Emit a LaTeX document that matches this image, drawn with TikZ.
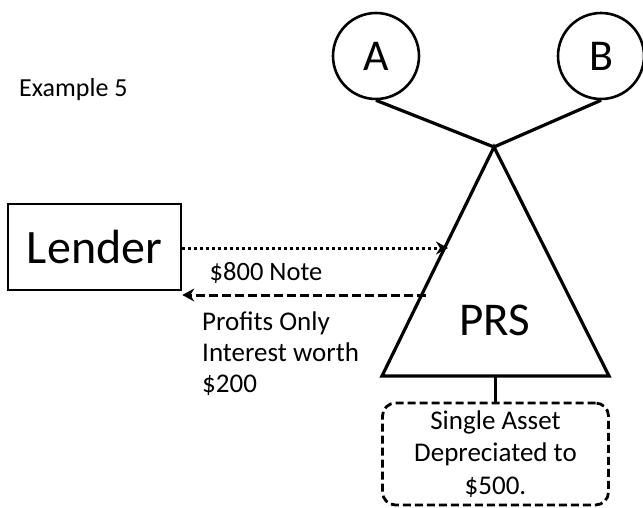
\documentclass[tikz,border=0pt]{standalone}
\usepackage{fontspec}
\setmainfont{Carlito}
\usetikzlibrary{arrows.meta}
\begin{document}
\begin{tikzpicture}[x=1pt,y=-1pt,
  line/.style={line width=3.2pt},
  partner/.style={circle,draw,line width=2.6pt,minimum size=86pt,inner sep=0pt,font=\fontsize{44}{48}\selectfont},
  txt/.style={inner sep=0pt,align=left,font=\fontsize{26.5}{31}\selectfont},
  tip/.style={-{Stealth[length=12pt,width=13pt,inset=4pt]}}
]
\useasboundingbox (0,0) rectangle (643,507);
\node[txt,anchor=west,font=\fontsize{26}{31}\selectfont] (ex) at (19,90) {Example 5};
\node[partner] (A) at (376,56) {A};
\node[partner] (B) at (601,56) {B};
\coordinate (apex) at (494,147);
\coordinate (bl) at (382,376);
\coordinate (br) at (609,376);
\draw[line,line join=miter] (apex) -- (bl) -- (br) -- cycle;
\draw[line] (A.south) -- (apex);
\draw[line] (B.south) -- (apex);
\node[inner sep=0pt,font=\fontsize{47}{52}\selectfont] (prs) at (495,320) {PRS};
\node[draw,line width=2.6pt,minimum width=173pt,minimum height=86pt,inner sep=0pt,font=\fontsize{48}{52}\selectfont] (lender) at (94.5,247) {Lender};
\coordinate (dotend) at (448,248);
\coordinate (dashstart) at (426,295);
\draw[line width=3pt,dash pattern=on 3pt off 3pt,tip] (lender.east |- dotend) -- (dotend);
\draw[line width=3pt,dash pattern=on 9pt off 4pt,tip] (dashstart) -- (lender.east |- dashstart);
\node[txt] (note) at (266,273) {\$800 Note};
\node[txt,anchor=north west,font=\fontsize{27}{31}\selectfont] (profits) at (202,312) {Profits Only\\Interest worth\\\$200};
\node[draw,line width=2.8pt,dash pattern=on 8pt off 4pt,rounded corners=13pt,minimum width=226pt,minimum height=102pt,inner sep=0pt,align=center,font=\fontsize{27}{32.5}\selectfont] (asset) at (495.5,454) {Single Asset\\Depreciated to\\\$500.};
\draw[line] (asset.north) -- (asset.north |- bl);
\end{tikzpicture}
\end{document}
